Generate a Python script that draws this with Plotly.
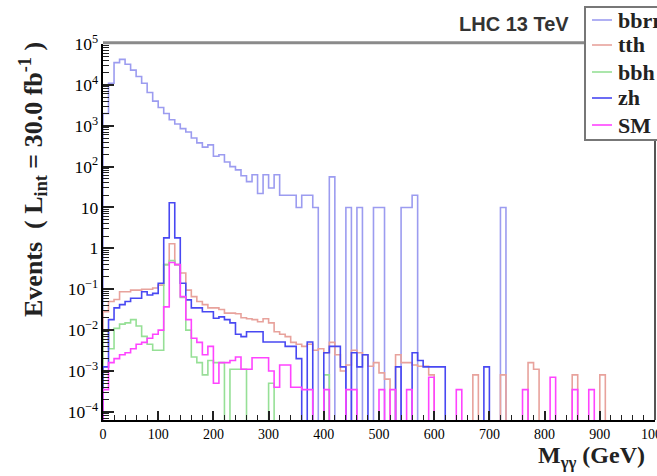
import plotly.graph_objects as go

# ---------------- data (10 GeV bins, 0..1000 GeV) ----------------
BIN_LO = 0
BIN_WIDTH = 10
N_BINS = 100

bbrr = [2000, 11000, 35000, 42000, 32000, 23000, 16000, 11000, 6500, 4000,
        2800, 2000, 1400, 1100, 850, 700, 500, 380, 300, 340,
        180, 195, 130, 100, 83, 60, 43, 63, 22, 63,
        30, 63, 20, 20, 20, 10, 20, 20, 10, 0,
        0, 56, 0, 0, 10, 0, 10, 0, 0, 10,
        10, 0, 0, 0, 10, 10, 20, 0, 0, 0,
        0, 0, 0, 0, 0, 0, 0, 0, 0, 0,
        0, 0, 10, 0, 0, 0, 0, 0, 0, 0,
        0, 0, 0, 0, 0, 0, 0, 0, 0, 0,
        0, 0, 0, 0, 0, 0, 0, 0, 0, 0]

tth = [0.028, 0.05, 0.056, 0.087, 0.087, 0.095, 0.095, 0.1, 0.1, 0.107,
       0.126, 0.4, 1.3, 0.4, 0.25, 0.095, 0.066, 0.05, 0.042, 0.035,
       0.035, 0.032, 0.026, 0.026, 0.025, 0.02, 0.019, 0.018, 0.016, 0.019,
       0.015, 0.0091, 0.0079, 0.0069, 0.005, 0.0045, 0.004, 0.0045, 0.0032, 0.0035,
       0.0028, 0.005, 0.0025, 0.001, 0.0014, 0.0032, 0.0028, 0.0025, 0.0013, 0.0016,
       0.0009, 0.00063, 0, 0.0025, 0.0016, 0.0016, 0.0014, 0.0013, 0.0013, 0.0008,
       0, 0, 0, 0, 0, 0, 0, 0.0008, 0, 0,
       0, 0, 0.0008, 0, 0, 0, 0, 0.0016, 0.0011, 0,
       0, 0, 0, 0, 0, 0.0008, 0, 0, 0, 0,
       0.0008, 0, 0, 0, 0, 0, 0, 0, 0, 0]

bbh = [0.01, 0.0035, 0.011, 0.014, 0.015, 0.018, 0.0126, 0.007, 0.0045, 0.0032,
       0.0032, 0.4, 0.5, 0.4, 0.063, 0.01, 0.0022, 0.0016, 0.0008, 0.0018,
       0.0016, 0.0016, 0, 0.0011, 0.0011, 0.0011, 0, 0, 0, 0,
       0.0005, 0, 0, 0, 0, 0, 0, 0, 0, 0,
       0.0008, 0, 0, 0, 0, 0, 0, 0, 0, 0,
       0, 0, 0, 0, 0, 0, 0, 0, 0, 0,
       0, 0, 0, 0, 0, 0, 0, 0, 0, 0,
       0, 0, 0, 0, 0, 0, 0, 0, 0, 0,
       0, 0, 0, 0, 0, 0, 0, 0, 0, 0,
       0, 0, 0, 0, 0, 0, 0, 0, 0, 0]

zh = [0.00126, 0.018, 0.035, 0.042, 0.05, 0.06, 0.06, 0.087, 0.072, 0.079,
      0.14, 1.8, 13, 1.8, 0.14, 0.055, 0.035, 0.035, 0.028, 0.028,
      0.0195, 0.021, 0.018, 0.015, 0.0079, 0.0069, 0.0091, 0.0091, 0.0091, 0.0051,
      0.0051, 0.0051, 0.0051, 0.004, 0.004, 0.002, 0, 0.0051, 0, 0,
      0.0028, 0.004, 0.004, 0.00126, 0, 0.0028, 0.00126, 0.0025, 0, 0,
      0, 0, 0, 0.00126, 0, 0, 0.0028, 0.0018, 0.00126, 0.00126,
      0.00126, 0.00126, 0, 0, 0, 0, 0, 0, 0, 0.00126,
      0, 0, 0, 0, 0, 0, 0, 0, 0, 0,
      0, 0, 0, 0, 0, 0, 0, 0, 0, 0,
      0, 0, 0, 0, 0, 0, 0, 0, 0, 0]

sm = [0.00035, 0.0016, 0.002, 0.0025, 0.0028, 0.0035, 0.0045, 0.005, 0.0063, 0.0079,
      0.01, 0.037, 0.45, 0.4, 0.066, 0.018, 0.0063, 0.005, 0.0025, 0.004,
      0.0005, 0.0016, 0.0016, 0.0018, 0.0022, 0.0011, 0.0011, 0.0021, 0.0021, 0.0021,
      0.001, 0.0004, 0.0014, 0.0014, 0.0004, 0.0004, 0.00035, 0.00035, 0, 0,
      0.00035, 0, 0, 0, 0.00035, 0.00035, 0, 0, 0, 0,
      0.00035, 0, 0.00035, 0, 0, 0.00035, 0, 0, 0, 0.0007,
      0, 0, 0, 0, 0.00035, 0, 0, 0, 0, 0,
      0, 0, 0, 0, 0, 0, 0.00035, 0, 0, 0,
      0, 0.0007, 0, 0, 0, 0.00035, 0, 0, 0.00035, 0,
      0, 0, 0, 0, 0, 0, 0, 0, 0, 0]

series_names = ["bbrr", "tth", "bbh", "zh", "SM"]
series_values = [bbrr, tth, bbh, zh, sm]
series_colors = ["#9c9cf0", "#e8a29c", "#96e096", "#4848f2", "#ff44ff"]

x_tick_vals = [0, 100, 200, 300, 400, 500, 600, 700, 800, 900, 1000]
y_range_log = [-4.2, 5]

# ---------------- figure ----------------
FLOOR = 1e-7
edges = [BIN_LO + i * BIN_WIDTH for i in range(N_BINS + 1)]

fig = go.Figure()
for name, vals, col in zip(series_names, series_values, series_colors):
    xs = [edges[0]] + edges[:-1] + [edges[-1], edges[-1]]
    ys = [FLOOR] + [v if v > 0 else FLOOR for v in vals] + [vals[-1] if vals[-1] > 0 else FLOOR, FLOOR]
    fig.add_trace(go.Scatter(x=xs, y=ys, mode="lines", line_shape="hv",
                             line=dict(color=col, width=1.6), name=name,
                             showlegend=False, hoverinfo="skip"))

W, H = 657, 476
ML, MR, MT, MB = 103, 2, 44, 56
pw, ph = W - ML - MR, H - MT - MB


def px2paper_x(px):
    return (px - ML) / pw


def py2paper_y(py):
    return (H - MB - py) / ph


serif = "Liberation Serif, Times New Roman, serif"
sans = "Liberation Sans, Arial, sans-serif"

fig.update_layout(
    width=W, height=H,
    margin=dict(l=ML, r=MR, t=MT, b=MB, pad=0, autoexpand=False),
    paper_bgcolor="white", plot_bgcolor="white",
    showlegend=False,
    xaxis=dict(range=[0, 1000], tickvals=x_tick_vals, showgrid=False, zeroline=False,
               automargin=False,
               showline=True, linecolor="black", linewidth=2,
               ticks="inside", ticklen=9, tickwidth=1.5, tickcolor="#222",
               ticklabeloverflow="allow",
               minor=dict(dtick=20, tick0=0, ticks="inside", ticklen=5, tickwidth=1.2, tickcolor="#222"),
               tickfont=dict(family=serif, size=14, color="black")),
    yaxis=dict(type="log", range=y_range_log, dtick=1, exponentformat="power",
               showgrid=False, zeroline=False,
               automargin=False,
               showline=True, linecolor="black", linewidth=2,
               ticks="inside", ticklen=11, tickwidth=1.5, tickcolor="#222",
               ticklabeloverflow="allow",
               minor=dict(dtick="D1", ticks="inside", ticklen=6, tickwidth=1.2, tickcolor="#222"),
               tickfont=dict(family=serif, size=14, color="black")),
)

shapes = []
# frame top & right
shapes.append(dict(type="line", xref="paper", yref="paper", x0=0, x1=1.01, y0=1.003, y1=1.003,
                   line=dict(color="#8a8a8a", width=3)))
shapes.append(dict(type="line", xref="paper", yref="paper", x0=1.0, x1=1.0, y0=0, y1=1,
                   line=dict(color="#555", width=2)))
# legend box
lx0, lx1, ly0, ly1 = 585, 670, 7, 140
shapes.append(dict(type="rect", xref="paper", yref="paper",
                   x0=px2paper_x(lx0), x1=px2paper_x(lx1), y0=py2paper_y(ly1), y1=py2paper_y(ly0),
                   fillcolor="white", line=dict(color="#777", width=2)))
leg_y = [20, 45, 72, 98, 125]
annotations = []
for name, col, yy in zip(series_names, series_colors, leg_y):
    shapes.append(dict(type="line", xref="paper", yref="paper",
                       x0=px2paper_x(592), x1=px2paper_x(612),
                       y0=py2paper_y(yy), y1=py2paper_y(yy), line=dict(color=col, width=1.6)))
    annotations.append(dict(xref="paper", yref="paper", x=px2paper_x(616), y=py2paper_y(yy),
                            xanchor="left", yanchor="middle", showarrow=False,
                            text="<b>%s</b>" % name,
                            font=dict(family=serif, size=22, color="#222")))

annotations.append(dict(xref="paper", yref="paper", x=px2paper_x(571), y=py2paper_y(24),
                        xanchor="right", yanchor="middle", showarrow=False,
                        text="<b>LHC 13 TeV</b>", font=dict(family=sans, size=20, color="#333")))
annotations.append(dict(xref="paper", yref="paper", x=px2paper_x(33), y=py2paper_y(180),
                        xanchor="center", yanchor="middle", showarrow=False, textangle=-90,
                        text="<b>Events  ( L<sub>int</sub> = 30.0 fb<sup>-1</sup> )</b>",
                        font=dict(family=serif, size=26, color="#222")))
annotations.append(dict(xref="paper", yref="paper", x=px2paper_x(647), y=py2paper_y(457),
                        xanchor="right", yanchor="middle", showarrow=False,
                        text="<b>M<sub>γγ</sub> (GeV)</b>",
                        font=dict(family=serif, size=24, color="#222")))

fig.update_layout(shapes=shapes, annotations=annotations)
fig.write_html("out.html")
